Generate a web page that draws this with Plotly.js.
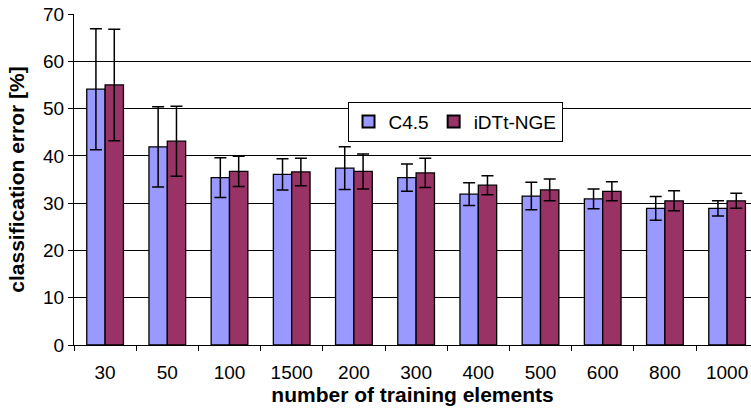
<!DOCTYPE html>
<html>
<head>
<meta charset="utf-8">
<script src="https://cdn.plot.ly/plotly-3.0.1.min.js"></script>
<style>html,body{margin:0;padding:0;background:#fff;}#chart{width:751px;height:412px;}</style>
</head>
<body>
<div id="chart"></div>
<script>
const categories = ["30","50","100","1500","200","300","400","500","600","800","1000"];
const c45Values = [54.1, 41.9, 35.4, 36.1, 37.4, 35.4, 31.9, 31.5, 30.9, 28.9, 28.9];
const c45Errors = [12.8, 8.5, 4.2, 3.3, 4.5, 2.9, 2.4, 2.9, 2.1, 2.5, 1.6];
const idttValues = [55.0, 43.1, 36.7, 36.6, 36.7, 36.4, 33.8, 32.8, 32.5, 30.5, 30.5];
const idttErrors = [11.8, 7.4, 3.2, 2.9, 3.7, 3.1, 2.0, 2.3, 2.0, 2.1, 1.6];
const seriesNames = ["C4.5", "iDTt-NGE"];

const FONT = "Arial, 'Liberation Sans', sans-serif";

const errStyle = {type: 'data', visible: true, color: '#000', thickness: 1.5, width: 6};

const traces = [
  {
    type: 'bar', name: seriesNames[0], x: categories, y: c45Values,
    marker: {color: '#9999FF', line: {color: '#000', width: 1.3}},
    error_y: Object.assign({array: c45Errors}, errStyle)
  },
  {
    type: 'bar', name: seriesNames[1], x: categories, y: idttValues,
    marker: {color: '#993366', line: {color: '#000', width: 1.3}},
    error_y: Object.assign({array: idttErrors}, errStyle)
  }
];

const layout = {
  width: 751, height: 412,
  margin: {l: 74, r: 0, t: 14, b: 67},
  paper_bgcolor: '#fff', plot_bgcolor: '#fff',
  barmode: 'group', bargap: 0.41, bargroupgap: 0,
  showlegend: true,
  legend: {
    orientation: 'h', x: 0.404, y: 0.735, xanchor: 'left', yanchor: 'top',
    bgcolor: '#fff', bordercolor: '#000', borderwidth: 1,
    font: {family: FONT, size: 19, color: '#000'},
    itemsizing: 'constant', tracegroupgap: 0
  },
  xaxis: {
    type: 'category', range: [-0.5, 10.384],
    showline: true, linecolor: '#000', linewidth: 1,
    ticks: 'outside', tickson: 'boundaries', ticklen: 5, tickcolor: '#000',
    ticklabelstandoff: 10,
    tickfont: {family: FONT, size: 19, color: '#000'},
    showgrid: false, zeroline: false,
    title: {text: 'number of training elements', font: {family: FONT, size: 21, color: '#000', weight: 'bold'}, standoff: 3}
  },
  yaxis: {
    range: [0, 70], dtick: 10, tick0: 0,
    showline: true, linecolor: '#000', linewidth: 1,
    ticks: 'outside', ticklen: 5, tickcolor: '#000',
    tickfont: {family: FONT, size: 19, color: '#000'},
    showgrid: true, gridcolor: '#000', gridwidth: 1,
    zeroline: false,
    title: {text: 'classification error [%]', font: {family: FONT, size: 21, color: '#000', weight: 'bold'}, standoff: 12}
  }
};

Plotly.newPlot('chart', traces, layout, {displayModeBar: false, staticPlot: true});
</script>
</body>
</html>
